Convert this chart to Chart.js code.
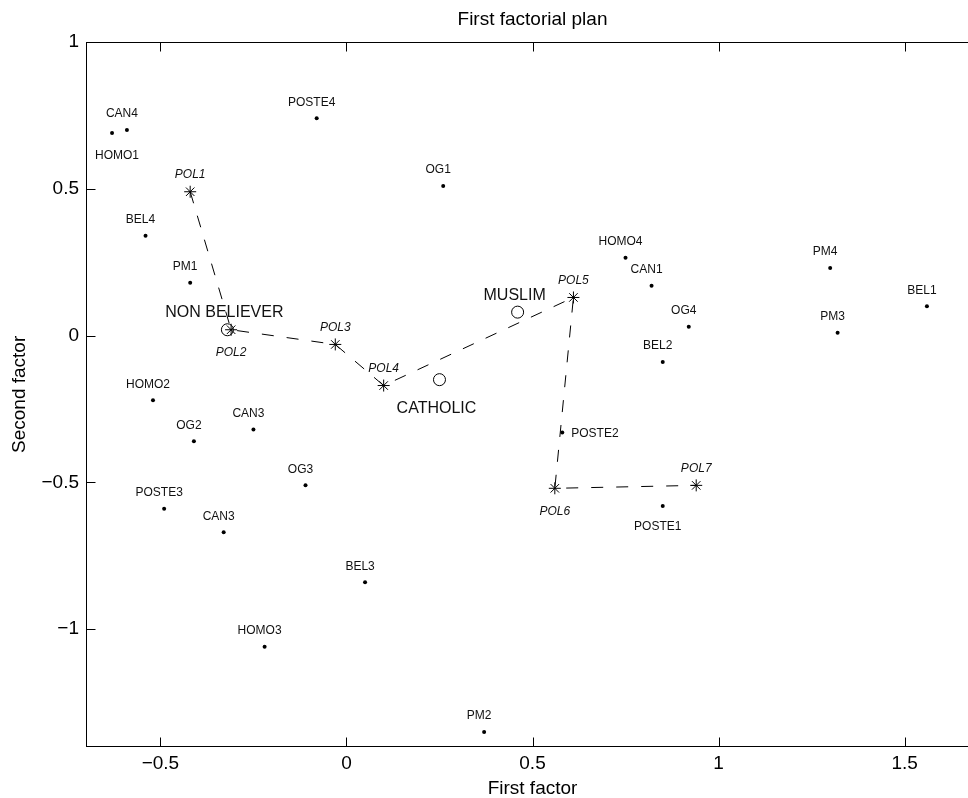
<!DOCTYPE html>
<html>
<head>
<meta charset="utf-8">
<title>First factorial plan</title>
<script src="https://cdn.jsdelivr.net/npm/chart.js@4.4.1/dist/chart.umd.min.js"></script>
<style>
  html, body { margin: 0; padding: 0; background: #fff; overflow: hidden; }
  #wrap { width: 979px; height: 800px; }
</style>
</head>
<body>
<div id="wrap"><canvas id="plan" width="979" height="800"></canvas></div>
<script>
// modalities of the active variables (small dots)
const modNames = ['CAN4', 'HOMO1', 'POSTE4', 'OG1', 'BEL4', 'PM1', 'HOMO4', 'CAN1', 'PM4', 'BEL1', 'OG4', 'PM3',
                  'BEL2', 'HOMO2', 'OG2', 'CAN3', 'POSTE2', 'OG3', 'POSTE3', 'POSTE1', 'CAN3', 'BEL3', 'HOMO3', 'PM2'];
const modX = [-0.59, -0.63, -0.08, 0.26, -0.54, -0.42, 0.75, 0.82, 1.30, 1.56, 0.92, 1.32,
              0.85, -0.52, -0.41, -0.25, 0.58, -0.11, -0.49, 0.85, -0.33, 0.05, -0.22, 0.37];
const modY = [0.70, 0.69, 0.74, 0.51, 0.34, 0.18, 0.265, 0.17, 0.23, 0.10, 0.03, 0.01,
              -0.09, -0.22, -0.36, -0.32, -0.33, -0.51, -0.59, -0.58, -0.67, -0.84, -1.06, -1.35];
const modPlace = ['above', 'belowRight', 'above', 'above', 'above', 'above', 'above', 'above', 'above', 'above', 'above', 'above',
                  'above', 'above', 'above', 'above', 'right', 'above', 'above', 'below', 'above', 'above', 'above', 'above'];

// polarisation levels, joined in order
const polNames = ['POL1', 'POL2', 'POL3', 'POL4', 'POL5', 'POL6', 'POL7'];
const polX = [-0.42, -0.31, -0.03, 0.10, 0.61, 0.56, 0.94];
const polY = [0.49, 0.02, -0.03, -0.17, 0.13, -0.52, -0.51];
const polPlace = ['above', 'below', 'above', 'above', 'above', 'below', 'above'];

// religion (supplementary points)
const relNames = ['NON BELIEVER', 'MUSLIM', 'CATHOLIC'];
const relX = [-0.32, 0.46, 0.25];
const relY = [0.02, 0.08, -0.15];
const relPlace = ['above', 'above', 'below'];

const xTicks = [-0.5, 0, 0.5, 1, 1.5];
const yTicks = [-1, -0.5, 0, 0.5, 1];

const FAMILY = '"Liberation Sans", Arial, Helvetica, sans-serif';
Chart.defaults.font.family = FAMILY;
Chart.defaults.color = '#000';

function pts(xs, ys) {
    return xs.map((x, i) => ({ x: x, y: ys[i] }));
}

function fmtTick(v) {
    return String(Math.round(v * 10) / 10).replace('-', '\u2212');
}

// text next to every point, style depends on the dataset
const nameStyle = [
    { font: '12px ' + FAMILY, dx: -5, above: -16, below: 21 },
    { font: 'italic 12px ' + FAMILY, dx: 0, above: -17, below: 23 },
    { font: '16px ' + FAMILY, dx: -3, above: -17, below: 29 }
];

const pointNames = {
    id: 'pointNames',
    afterDatasetsDraw(chart) {
        const ctx = chart.ctx;
        ctx.save();
        ctx.fillStyle = '#111';
        ctx.textBaseline = 'middle';
        chart.data.datasets.forEach((ds, i) => {
            const st = nameStyle[i];
            ctx.font = st.font;
            chart.getDatasetMeta(i).data.forEach((el, j) => {
                const place = ds.place[j];
                const name = ds.names[j];
                if (place === 'right') {
                    ctx.textAlign = 'left';
                    ctx.fillText(name, el.x + 9, el.y + 1);
                } else if (place === 'belowRight') {
                    ctx.textAlign = 'center';
                    ctx.fillText(name, el.x + 5, el.y + st.below + 2);
                } else {
                    ctx.textAlign = 'center';
                    ctx.fillText(name, el.x + st.dx, el.y + (place === 'below' ? st.below : st.above));
                }
            });
        });
        ctx.restore();
    }
};

// box round the plot with inward ticks, plus the title above it
const frame = {
    id: 'frame',
    afterDraw(chart) {
        const { ctx, chartArea: a, scales: { x, y } } = chart;
        const L = Math.round(a.left) + 0.5, R = Math.round(a.right) - 0.5;
        const T = Math.round(a.top) + 0.5, B = Math.round(a.bottom) - 0.5;
        ctx.save();
        ctx.strokeStyle = '#000';
        ctx.lineWidth = 1;
        ctx.strokeRect(L, T, R - L, B - T);
        ctx.beginPath();
        x.ticks.forEach(t => {
            const px = Math.round(x.getPixelForValue(t.value)) + 0.5;
            ctx.moveTo(px, B); ctx.lineTo(px, B - 9);
            ctx.moveTo(px, T); ctx.lineTo(px, T + 9);
        });
        y.ticks.forEach(t => {
            const py = Math.round(y.getPixelForValue(t.value)) + 0.5;
            ctx.moveTo(L, py); ctx.lineTo(L + 9, py);
            ctx.moveTo(R, py); ctx.lineTo(R - 9, py);
        });
        ctx.stroke();

        ctx.fillStyle = '#000';
        ctx.font = '19px ' + FAMILY;
        ctx.textAlign = 'center';
        ctx.textBaseline = 'middle';
        ctx.fillText('First factorial plan', (a.left + a.right) / 2, 20);
        ctx.restore();
    }
};

new Chart(document.getElementById('plan').getContext('2d'), {
    type: 'scatter',
    data: {
        datasets: [
            {
                label: 'Modalities',
                data: pts(modX, modY),
                names: modNames,
                place: modPlace,
                pointRadius: 2,
                pointBackgroundColor: '#000',
                pointBorderWidth: 0,
                showLine: false
            },
            {
                label: 'Polarisation',
                data: pts(polX, polY),
                names: polNames,
                place: polPlace,
                showLine: true,
                borderColor: '#000',
                borderWidth: 1,
                borderDash: [12, 13],
                pointStyle: 'star',
                pointRadius: 6,
                pointBorderColor: '#000',
                pointBackgroundColor: '#000',
                pointBorderWidth: 1
            },
            {
                label: 'Religion',
                data: pts(relX, relY),
                names: relNames,
                place: relPlace,
                pointStyle: 'circle',
                pointRadius: 6,
                pointBackgroundColor: 'rgba(0,0,0,0)',
                pointBorderColor: '#000',
                pointBorderWidth: 1,
                showLine: false
            }
        ]
    },
    options: {
        responsive: false,
        animation: false,
        events: [],
        layout: { autoPadding: false, padding: { top: 42, left: 0, right: 0, bottom: 0 } },
        plugins: {
            legend: { display: false },
            tooltip: { enabled: false }
        },
        scales: {
            x: {
                type: 'linear',
                min: -0.7,
                max: 1.7,
                grid: { display: false, drawTicks: false },
                border: { display: false },
                ticks: { font: { size: 19 }, color: '#000', padding: 6, callback: fmtTick },
                afterBuildTicks: s => { s.ticks = xTicks.map(v => ({ value: v })); },
                afterFit: s => { s.height = 53.3; s.paddingLeft = 0; s.paddingRight = 0; },
                title: { display: true, text: 'First factor', font: { size: 19 }, color: '#000', padding: { top: 0, bottom: 0 } }
            },
            y: {
                type: 'linear',
                min: -1.4,
                max: 1,
                grid: { display: false, drawTicks: false },
                border: { display: false },
                ticks: { font: { size: 19 }, color: '#000', padding: 7, callback: fmtTick },
                afterBuildTicks: s => { s.ticks = yTicks.map(v => ({ value: v })); },
                afterFit: s => { s.width = 86; s.paddingTop = 0; s.paddingBottom = 0; },
                title: { display: true, text: 'Second factor', font: { size: 19 }, color: '#000', padding: { top: 8, bottom: 0 } }
            }
        }
    },
    plugins: [pointNames, frame]
});
</script>
</body>
</html>
